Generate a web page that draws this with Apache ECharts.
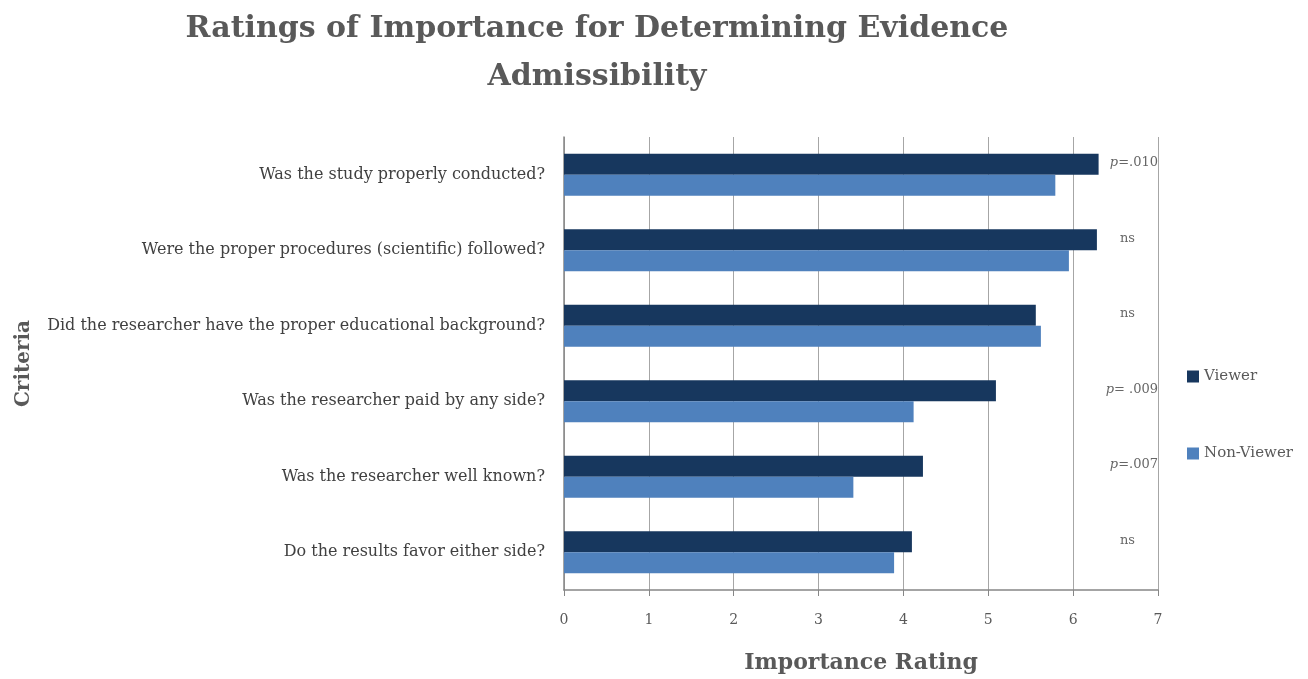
<!DOCTYPE html>
<html><head><meta charset="utf-8">
<script src="https://cdn.jsdelivr.net/npm/echarts@6/dist/echarts.min.js"></script>
<style>html,body{margin:0;padding:0;background:#fff}#c{width:1308px;height:679px}</style>
</head><body><div id="c"></div>
<script>
const categories = [
  'Was the study properly conducted?',
  'Were the proper procedures (scientific) followed?',
  'Did the researcher have the proper educational background?',
  'Was the researcher paid by any side?',
  'Was the researcher well known?',
  'Do the results favor either side?'
];
const viewer = [6.30, 6.28, 5.56, 5.09, 4.23, 4.10];
const nonViewer = [5.79, 5.95, 5.62, 4.12, 3.41, 3.89];
const annotations = ['p=.010', 'ns', 'ns', 'p= .009', 'p=.007', 'ns'];
const xTicks = [0, 1, 2, 3, 4, 5, 6, 7];

const FONT = '"DejaVu Serif", "Liberation Serif", serif';
const chart = echarts.init(document.getElementById('c'));
chart.setOption({
  animation: false,
  textStyle: { fontFamily: FONT },
  title: {
    text: 'Ratings of Importance for Determining Evidence\nAdmissibility',
    left: 592, top: 0, textAlign: 'center',
    textStyle: { fontFamily: FONT, fontSize: 30, fontWeight: 'bold', color: '#595959', lineHeight: 48 }
  },
  legend: {
    orient: 'vertical', left: 1182, top: 364, itemGap: 62,
    itemWidth: 12, itemHeight: 12, icon: 'rect',
    textStyle: { fontFamily: FONT, fontSize: 15, color: '#595959' },
    data: ['Viewer', 'Non-Viewer']
  },
  grid: { left: 564, right: 150, top: 137, bottom: 89, containLabel: false },
  xAxis: {
    type: 'value', min: 0, max: 7, interval: 1,
    name: 'Importance Rating', nameLocation: 'middle', nameGap: 62,
    nameTextStyle: { fontFamily: FONT, fontSize: 22, fontWeight: 'bold', color: '#595959' },
    axisLine: { show: true, lineStyle: { color: '#868686', width: 1.5 } },
    axisTick: { show: true, length: 6, lineStyle: { color: '#868686' } },
    axisLabel: { fontFamily: FONT, fontSize: 14, color: '#595959', margin: 23,
      formatter: v => xTicks.includes(v) ? String(v) : '' },
    splitLine: { show: true, lineStyle: { color: '#a6a6a6', width: 1 } }
  },
  yAxis: {
    type: 'category', data: categories, inverse: true,
    name: 'Criteria', nameLocation: 'middle', nameGap: 530, nameRotate: 90,
    nameTextStyle: { fontFamily: FONT, fontSize: 20, fontWeight: 'bold', color: '#595959' },
    axisLine: { show: true, lineStyle: { color: '#868686', width: 1.5 } },
    axisTick: { show: false },
    axisLabel: { fontFamily: FONT, fontSize: 16, color: '#404040', margin: 19 }
  },
  series: [
    { name: 'Viewer', type: 'bar', data: viewer, barWidth: 21, barGap: '0%',
      itemStyle: { color: '#17375E' } },
    { name: 'Non-Viewer', type: 'bar', data: nonViewer, barWidth: 21,
      itemStyle: { color: '#4F81BD' } },
    { name: 'ann', type: 'scatter', symbolSize: 0, silent: true,
      data: annotations.map((a, i) => ({
        value: [7, i],
        label: {
          show: true, position: 'left', distance: 0,
          offset: a === 'ns' ? [-23, -12] : [0, -12],
          formatter: a.startsWith('p') ? '{i|p}' + a.slice(1) : a,
          fontFamily: FONT, fontSize: 13, color: '#404040',
          rich: { i: { fontFamily: FONT, fontSize: 13, fontStyle: 'italic', color: '#404040' } }
        }
      }))
    }
  ]
});
</script></body></html>
